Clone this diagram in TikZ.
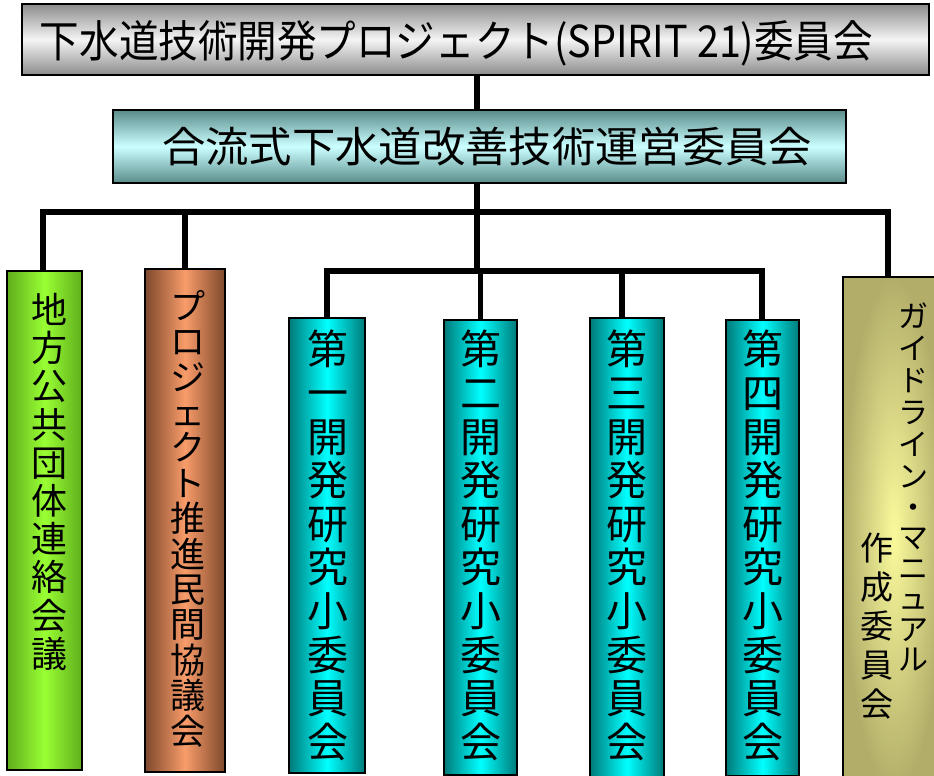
\documentclass[tikz,border=0pt]{standalone}
\usepackage{fontspec}
\usepackage{graphicx}
\newfontfamily\jp{Noto Sans CJK JP}
\definecolor{grayedge}{HTML}{8C8C8C}
\definecolor{graymid}{HTML}{F4F4F4}
\definecolor{tealedge}{HTML}{5A8C8C}
\definecolor{tealmid}{HTML}{CCFFFF}
\definecolor{cyanedge}{HTML}{007A7A}
\definecolor{cyanmid}{HTML}{00FFFF}
\definecolor{greenedge}{HTML}{5FAE1C}
\definecolor{greenmid}{HTML}{99FF33}
\definecolor{orangeedge}{HTML}{7E482C}
\definecolor{orangemid}{HTML}{F89C6A}
\definecolor{khakiin}{HTML}{FAFA9C}
\definecolor{khakiout}{HTML}{B2AE6A}
\newcommand{\tightls}{\lineskiplimit=-100pt\relax}
\begin{document}
\begin{tikzpicture}[x=1pt,y=-1pt,
  box/.style={draw=black, line width=2.2pt, rectangle, inner sep=0pt, outer sep=0pt},
  hbox/.style={box, top color=#1edge, bottom color=#1edge, middle color=#1mid},
  vbox/.style={box, left color=#1edge, right color=#1edge, middle color=#1mid},
  conn/.style={line width=5.5pt, draw=black, line join=miter, line cap=butt},
  vtext/.style={anchor=north, inner sep=0pt, align=center, text=black}]
\useasboundingbox (0,0) rectangle (934,776);

% boxes
\node[hbox=gray, minimum width=907pt, minimum height=71pt] (top) at (475.5,39.5) {};
\node[hbox=teal, minimum width=733pt, minimum height=73pt] (mid) at (479.5,146.5) {};
\node[vbox=green, minimum width=75pt, minimum height=499pt] (g) at (44.5,520.5) {};
\node[vbox=orange, minimum width=80pt, minimum height=503pt] (o) at (185,520.5) {};
\node[vbox=cyan, minimum width=76pt, minimum height=455pt] (s1) at (327,545.5) {};
\node[vbox=cyan, minimum width=73pt, minimum height=455pt] (s2) at (480.5,547.5) {};
\node[vbox=cyan, minimum width=74pt, minimum height=460pt] (s3) at (627,548) {};
\node[vbox=cyan, minimum width=73pt, minimum height=456pt] (s4) at (762.5,548) {};
\node[box, inner color=khakiin, outer color=khakiout, minimum width=102pt, minimum height=513pt] (k) at (894,533.5) {};

% connectors
\coordinate (b1) at (43,212);
\coordinate (b2) at (888,212);
\coordinate (c1) at (327,271);
\coordinate (c3) at (622,271);
\coordinate (c4) at (762,271);
\coordinate (tr) at (477,0);
\draw[conn] (tr |- top.south) -- (tr |- mid.north);
\draw[conn] (tr |- mid.south) -- (tr |- c1);
\draw[conn] (b1 |- g.north) -- (b1) -- (b2) -- (b2 |- k.north);
\draw[conn] (o.north) -- (o.north |- b1);
\draw[conn] (c1 |- s1.north) -- (c1) -- (c4) -- (c4 |- s4.north);
\draw[conn] (s2.north) -- (s2.north |- c1);
\draw[conn] (c3 |- s3.north) -- (c3);

% titles
\node[inner sep=0pt, anchor=base, font=\jp\fontsize{44}{50}\selectfont] (ttop) at (456.5,57.5)
  {\resizebox{833pt}{\height}{下水道技術開発プロジェクト(SPIRIT 21)委員会}};
\node[inner sep=0pt, anchor=base, font=\jp\fontsize{42}{50}\selectfont] (tmid) at (487,162.5)
  {\resizebox{650pt}{\height}{合流式下水道改善技術運営委員会}};

% vertical texts
\node[vtext, font=\jp\fontsize{36}{38.2}\selectfont] (tg) at (49,293)
  {地\\方\\公\\共\\団\\体\\連\\絡\\会\\議};
\node[vtext, font=\jp\fontsize{35}{35.4}\selectfont] (to) at (188,290)
  {プ\\ロ\\ジ\\ェ\\ク\\ト\\推\\進\\民\\間\\協\\議\\会};
\node[vtext, font=\jp\fontsize{41}{43.6}\selectfont] (ts1) at (328,330)
  {第\\一\\開\\発\\研\\究\\小\\委\\員\\会};
\node[vtext, font=\jp\fontsize{41}{43.6}\selectfont] (ts2) at (481,330)
  {第\\二\\開\\発\\研\\究\\小\\委\\員\\会};
\node[vtext, font=\jp\fontsize{41}{43.6}\selectfont] (ts3) at (627,330)
  {第\\三\\開\\発\\研\\究\\小\\委\\員\\会};
\node[vtext, font=\jp\fontsize{41}{43.6}\selectfont] (ts4) at (763,330)
  {第\\四\\開\\発\\研\\究\\小\\委\\員\\会};

% guideline box, right column
\node[vtext, font=\jp\fontsize{30}{32}\selectfont\tightls] (kr) at (913,303)
  {ガ\\イ\\ド\\ラ\\イ\\ン\\[-1.5pt]・\\[-1.5pt]マ\\[-1.5pt]ニ\\[-1.5pt]ュ\\[-1.5pt]ア\\[-1.5pt]ル};
% guideline box, left column
\node[vtext, font=\jp\fontsize{33}{39}\selectfont] (kl) at (877,533)
  {作\\成\\委\\員\\会};
\end{tikzpicture}
\end{document}
